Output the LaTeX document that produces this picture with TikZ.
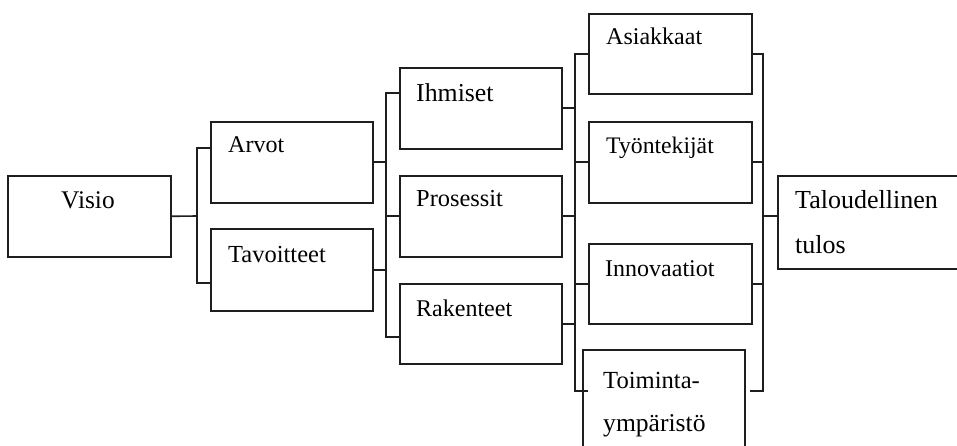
\documentclass[tikz,border=0pt]{standalone}
\usepackage{fontspec}
\setmainfont{Liberation Serif}
\usetikzlibrary{calc}
\definecolor{ink}{HTML}{1E1E1E}
\begin{document}
\begin{tikzpicture}[x=1pt,y=-1pt,
  box/.style={draw=ink, line width=1.6pt, rectangle, inner sep=0pt, anchor=north west},
  lbl/.style={anchor=base west, inner sep=0pt, text=black},
  wire/.style={draw=ink, line width=1.6pt},
  fs/.style={font=\fontsize{#1}{#1}\selectfont}]
\clip (0,0) rectangle (957,446);

% boxes
\node[box, minimum width=163pt, minimum height=81pt] (visio) at (7,175) {};
\node[box, minimum width=162pt, minimum height=81pt] (arvot) at (210,121) {};
\node[box, minimum width=162pt, minimum height=82pt] (tavoitteet) at (210,228) {};
\node[box, minimum width=162pt, minimum height=81pt] (ihmiset) at (399,67) {};
\node[box, minimum width=162pt, minimum height=81pt] (prosessit) at (399,175) {};
\node[box, minimum width=162pt, minimum height=80pt] (rakenteet) at (399,283) {};
\node[box, minimum width=163pt, minimum height=80pt] (asiakkaat) at (588,13) {};
\node[box, minimum width=163pt, minimum height=81pt] (tyontekijat) at (588,121) {};
\node[box, minimum width=163pt, minimum height=80pt] (innovaatiot) at (588,243) {};
\node[box, minimum width=162pt, minimum height=130pt] (toiminta) at (582,349) {};
\node[box, minimum width=220pt, minimum height=93pt] (tulos) at (777,175) {};

% labels
\node[lbl, fs=25.4] (tVisio) at (61,209) {Visio};
\node[lbl, fs=24] (tArvot) at (228,153) {Arvot};
\node[lbl, fs=24.5] (tTavoitteet) at (228,262) {Tavoitteet};
\node[lbl, fs=25.8] (tIhmiset) at (416,102) {Ihmiset};
\node[lbl, fs=24.4] (tProsessit) at (416,207) {Prosessit};
\node[lbl, fs=24] (tRakenteet) at (416,316) {Rakenteet};
\node[lbl, fs=24] (tAsiakkaat) at (606,45) {Asiakkaat};
\node[lbl, fs=23.7] (tTyontekijat) at (606,154) {Työntekijät};
\node[lbl, fs=24] (tInnovaatiot) at (605,276) {Innovaatiot};
\node[lbl, fs=24.6] (tToiminta) at (603,388) {Toiminta-};
\node[lbl, fs=25.6] (tYmparisto) at (603,431) {ympäristö};
\node[lbl, fs=26] (tTaloudellinen) at (795,208) {Taloudellinen};
\node[lbl, fs=26] (tTulos) at (795,253) {tulos};

% junction columns
\coordinate (j1) at (197,216);
\coordinate (j2) at (386,215);
\coordinate (j3) at (575,215);
\coordinate (j4) at (763,216);
\coordinate (t1) at (588,391);
\coordinate (t2) at (750,391);

% Visio -> Arvot, Tavoitteet
\draw[wire] (visio.east) -- (j1);
\draw[wire] ($(arvot.north west)+(0,27)$) -| (j1) |- ($(tavoitteet.north west)+(0,55)$);

% Arvot, Tavoitteet -> Ihmiset, Prosessit, Rakenteet
\draw[wire] ($(ihmiset.north west)+(0,26)$) -| (j2) |- ($(rakenteet.north west)+(0,54)$);
\draw[wire] (arvot.east) -- (arvot.east -| j2);
\draw[wire] (tavoitteet.east) -- (tavoitteet.east -| j2);
\draw[wire] (prosessit.west) -- (prosessit.west -| j2);

% Ihmiset, Prosessit, Rakenteet -> four perspectives
\draw[wire] (asiakkaat.west) -| (j3 |- t1) -- (t1);
\draw[wire] (ihmiset.east) -- (ihmiset.east -| j3);
\draw[wire] (prosessit.east) -- (prosessit.east -| j3);
\draw[wire] (rakenteet.east) -- (rakenteet.east -| j3);
\draw[wire] (tyontekijat.west) -- (tyontekijat.west -| j3);
\draw[wire] (innovaatiot.west) -- (innovaatiot.west -| j3);

% four perspectives -> Taloudellinen tulos
\draw[wire] (asiakkaat.east) -| (j4 |- t2) -- (t2);
\draw[wire] (tyontekijat.east) -- (tyontekijat.east -| j4);
\draw[wire] (innovaatiot.east) -- (innovaatiot.east -| j4);
\draw[wire] (j4) -- ($(tulos.north west)+(0,41)$);
\end{tikzpicture}
\end{document}
